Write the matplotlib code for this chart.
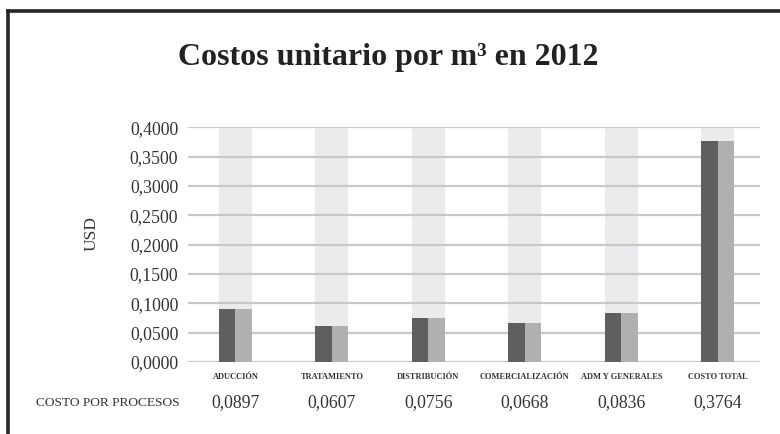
import numpy as np
import matplotlib
matplotlib.use("Agg")
import matplotlib.pyplot as plt
from matplotlib.lines import Line2D


categories = ["ADUCCIÓN", "TRATAMIENTO", "DISTRIBUCIÓN",
              "COMERCIALIZACIÓN", "ADM Y GENERALES", "COSTO TOTAL"]
costs = [0.0897, 0.0607, 0.0756, 0.0668, 0.0836, 0.3764]  # USD per m3
yTicks = [0.0, 0.05, 0.10, 0.15, 0.20, 0.25, 0.30, 0.35, 0.40]
yMax = 0.40

darkGrey = "#5f5f61"
lightGrey = "#b0b0b2"
backGrey = "#ebebed"
gridGrey = "#c8c8c8"

plt.rcParams['font.family'] = ['Liberation Serif', 'DejaVu Serif']


def fmtComma(val):
	return "{:.4f}".format(val).replace(".", ",")


def main():
	fig = plt.figure(figsize=(7.8, 4.34), dpi=100)
	ax = fig.add_axes([0.241, 0.166, 0.733, 0.541])

	x = np.arange(len(categories))
	halfWidth = 0.172

	# pale column behind each pair, full height of the axis
	ax.bar(x, [yMax] * len(x), width=2 * halfWidth, color=backGrey, zorder=1)
	ax.bar(x - halfWidth / 2, costs, width=halfWidth, color=darkGrey, zorder=3)
	ax.bar(x + halfWidth / 2, costs, width=halfWidth, color=lightGrey, zorder=3)

	for tick in yTicks:
		ax.axhline(tick, color=gridGrey, linewidth=1.6, zorder=2)

	ax.set_xlim(-0.492, 5.435)
	ax.set_ylim(0, yMax)
	ax.set_yticks(yTicks)
	ax.set_yticklabels([fmtComma(t) for t in yTicks], fontsize=12.8, color="#333333")
	ax.tick_params(axis="y", length=0, pad=7)
	ax.set_xticks([])
	for side in ax.spines.values():
		side.set_visible(False)

	ax.set_ylabel("USD", fontsize=12.5, color="#333333")
	ax.yaxis.set_label_coords(-0.155, 0.549)

	# category names and values underneath
	for i, name in enumerate(categories):
		ax.text(i, -0.025, name, ha="center", va="center",
				fontsize=6.0, fontweight="bold", color="#333333", clip_on=False)
		ax.text(i, -0.0685, fmtComma(costs[i]), ha="center", va="center",
				fontsize=12.8, color="#333333", clip_on=False)

	fig.text(36 / 780, 1 - 403 / 434, "COSTO POR PROCESOS", ha="left", va="center",
			 fontsize=9.6, color="#333333")

	fig.text(388 / 780, 1 - 58 / 434, "Costos unitario por m³ en 2012", ha="center",
			 va="center", fontsize=23, fontweight="bold", color="#222222")

	# frame along the top and left edges
	frameX = 7.5 / 780
	frameY = 1 - 10.5 / 434
	fig.add_artist(Line2D([frameX, frameX], [0, frameY], transform=fig.transFigure,
						  color="#262626", linewidth=2.6, solid_capstyle="projecting"))
	fig.add_artist(Line2D([frameX, 1], [frameY, frameY], transform=fig.transFigure,
						  color="#262626", linewidth=2.6, solid_capstyle="projecting"))

	fig.savefig("out.png", dpi=100)


if __name__ == '__main__':
	main()
